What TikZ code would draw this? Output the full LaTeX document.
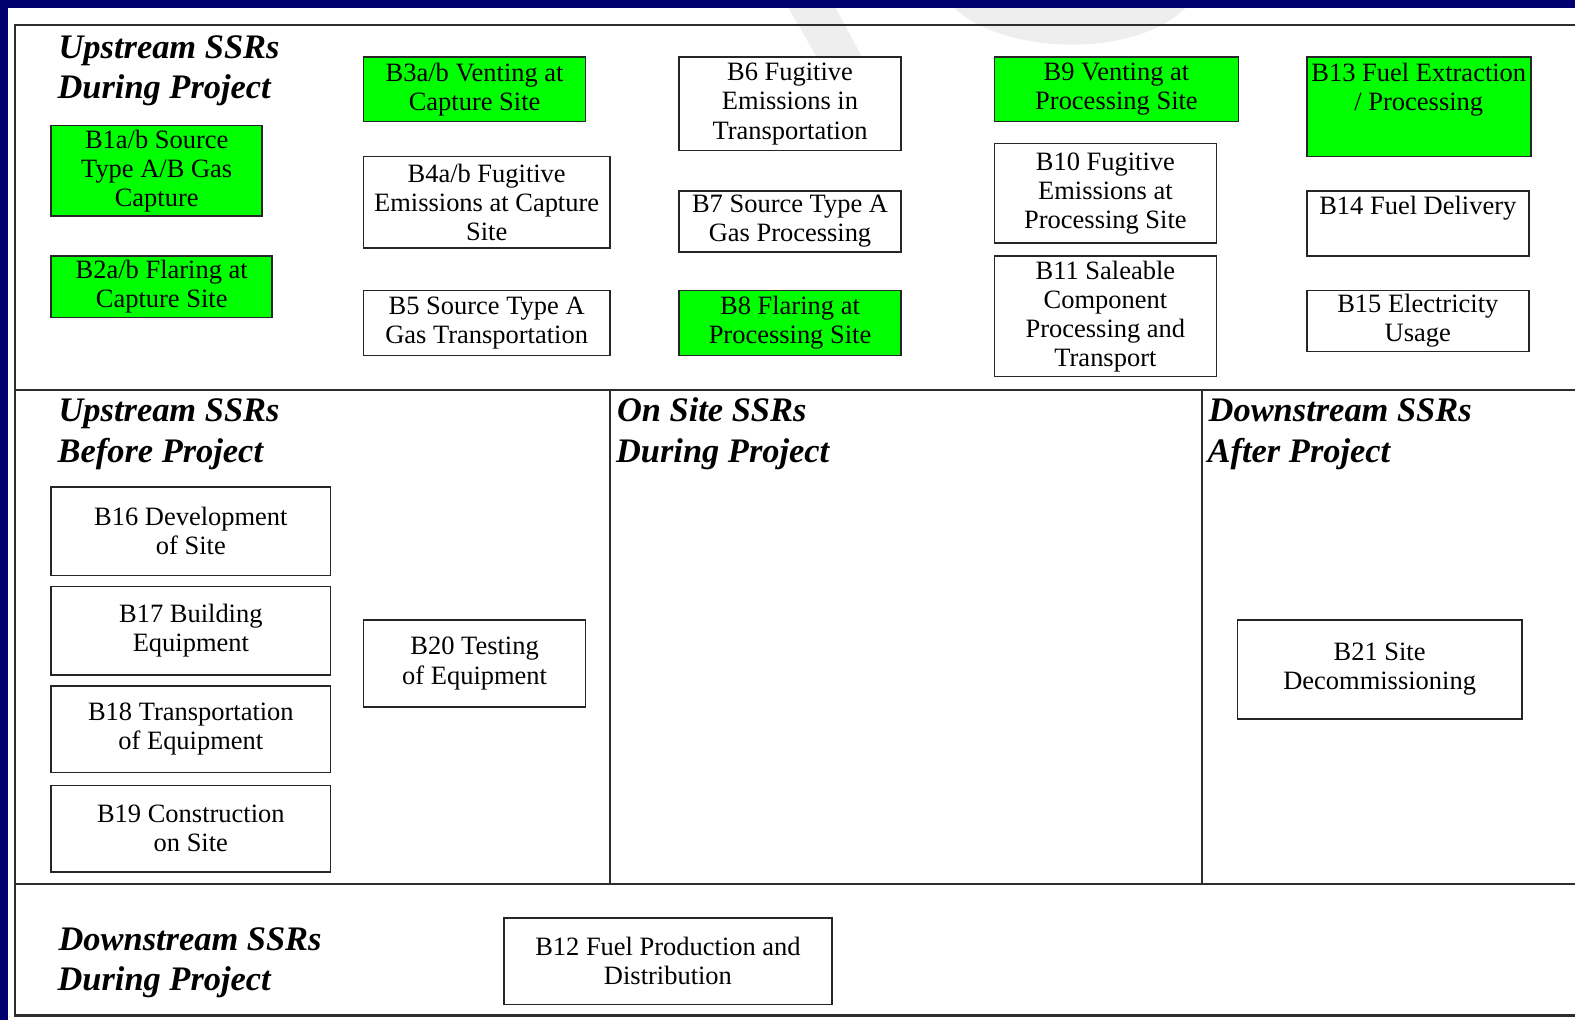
\documentclass[tikz,border=0pt]{standalone}
\usepackage{fontspec}
\setmainfont{Liberation Serif}
\definecolor{slidenavy}{RGB}{0,0,110}
\definecolor{boxgreen}{RGB}{0,255,0}
\definecolor{framegray}{RGB}{45,45,45}
\definecolor{markgray}{RGB}{238,238,238}
\newcommand{\boxfont}{\fontsize{15}{16.5}\selectfont}
\newcommand{\headfont}{\fontsize{19.5}{22.7}\selectfont\bfseries\itshape}
% box given by its corners: [style] x1 y1 x2 y2 name text
\newcommand{\ssrbox}[7][bx]{%
  \node[#1, minimum width={(#4-#2)*0.02cm}, minimum height={(#5-#3)*0.02cm}]
    (#6) at ({(#2+#4)/2},{(#3+#5)/2}) {#7};}
\tikzset{
  bx/.style={draw=black!85, line width=0.9pt, fill=white, align=center,
    inner sep=1pt, font=\boxfont},
  gbx/.style={bx, fill=boxgreen},
  hd/.style={anchor=base west, inner sep=0pt, font=\headfont},
  topline/.style={anchor=north, inner sep=0pt, align=center, font=\boxfont},
  frame/.style={draw=framegray, line width=1.2pt},
}
\begin{document}
\begin{tikzpicture}[x=0.02cm, y=-0.02cm]
\useasboundingbox (0,0) rectangle (1568,1015);
% slide background and white page
\fill[slidenavy] (0,0) rectangle (1568,1015);
\fill[white] (8,8) rectangle (1568,1015);
% faint watermark behind the page top
\begin{scope}
  \clip (8,8) rectangle (1568,70);
  \fill[markgray] (785,8) -- (832,8) -- (860,60) -- (815,60) -- cycle;
  \fill[markgray] (950,8) .. controls (1000,55) and (1130,58) .. (1180,8) -- cycle;
\end{scope}

% section frame
\draw[frame] (1568,25) -- (15,25) -- (15,1011) -- (1568,1011);
\draw[frame] (15,388) -- (1568,388);
\draw[frame] (15,880) -- (1568,880);
\draw[frame] (607,388) -- (607,880);
\draw[frame] (1197,388) -- (1197,880);

% section headings
\node[hd] (h1a) at (58,58) {Upstream SSRs};
\node[hd] (h1b) at (57,98) {During Project};
\node[hd] (h2a) at (58,420) {Upstream SSRs};
\node[hd] (h2b) at (57,460) {Before Project};
\node[hd] (h3a) at (614,420) {On Site SSRs};
\node[hd] (h3b) at (613,460) {During Project};
\node[hd] (h4a) at (1203,420) {Downstream SSRs};
\node[hd] (h4b) at (1202,460) {After Project};
\node[hd] (h5a) at (58,946) {Downstream SSRs};
\node[hd] (h5b) at (57,986) {During Project};

% upstream during project
\ssrbox[gbx]{51}{125}{261}{215}{b1}{B1a/b Source\\Type A/B Gas\\Capture}
\ssrbox[gbx]{51}{255}{271}{316}{b2}{B2a/b Flaring at\\Capture Site}
\ssrbox[gbx]{362}{57}{583}{121}{b3}{B3a/b Venting at\\Capture Site}
\ssrbox{362}{156}{607}{247}{b4}{B4a/b Fugitive\\Emissions at Capture\\Site}
\ssrbox{362}{289}{607}{354}{b5}{B5 Source Type A\\Gas Transportation}
\ssrbox{676}{57}{897}{150}{b6}{B6 Fugitive\\Emissions in\\Transportation}
\ssrbox{676}{190}{897}{251}{b7}{B7 Source Type A\\Gas Processing}
\ssrbox[gbx]{676}{289}{897}{354}{b8}{B8 Flaring at\\Processing Site}
\ssrbox[gbx]{990}{57}{1233}{121}{b9}{B9 Venting at\\Processing Site}
\ssrbox{990}{143}{1211}{242}{b10}{B10 Fugitive\\Emissions at\\Processing Site}
\ssrbox{990}{255}{1211}{375}{b11}{B11 Saleable\\Component\\Processing and\\Transport}
\ssrbox[gbx]{1301}{57}{1524}{156}{b13}{}
\node[topline] (b13t) at (1412.5,62) {B13 Fuel Extraction\\/ Processing};
\ssrbox{1301}{190}{1522}{255}{b14}{}
\node[topline] (b14t) at (1411.5,195) {B14 Fuel Delivery};
\ssrbox{1301}{289}{1522}{350}{b15}{B15 Electricity\\Usage}

% upstream before project
\ssrbox{51}{485}{329}{573}{b16}{B16 Development\\of Site}
\ssrbox{51}{584}{329}{672}{b17}{B17 Building\\Equipment}
\ssrbox{51}{683}{329}{769}{b18}{B18 Transportation\\of Equipment}
\ssrbox{51}{782}{329}{868}{b19}{B19 Construction\\on Site}
\ssrbox{362}{617}{583}{704}{b20}{B20 Testing\\of Equipment}

% downstream after project
\ssrbox{1232}{617}{1515}{716}{b21}{B21 Site\\Decommissioning}

% downstream during project
\ssrbox{502}{914}{828}{1000}{b12}{B12 Fuel Production and\\Distribution}
\end{tikzpicture}
\end{document}
